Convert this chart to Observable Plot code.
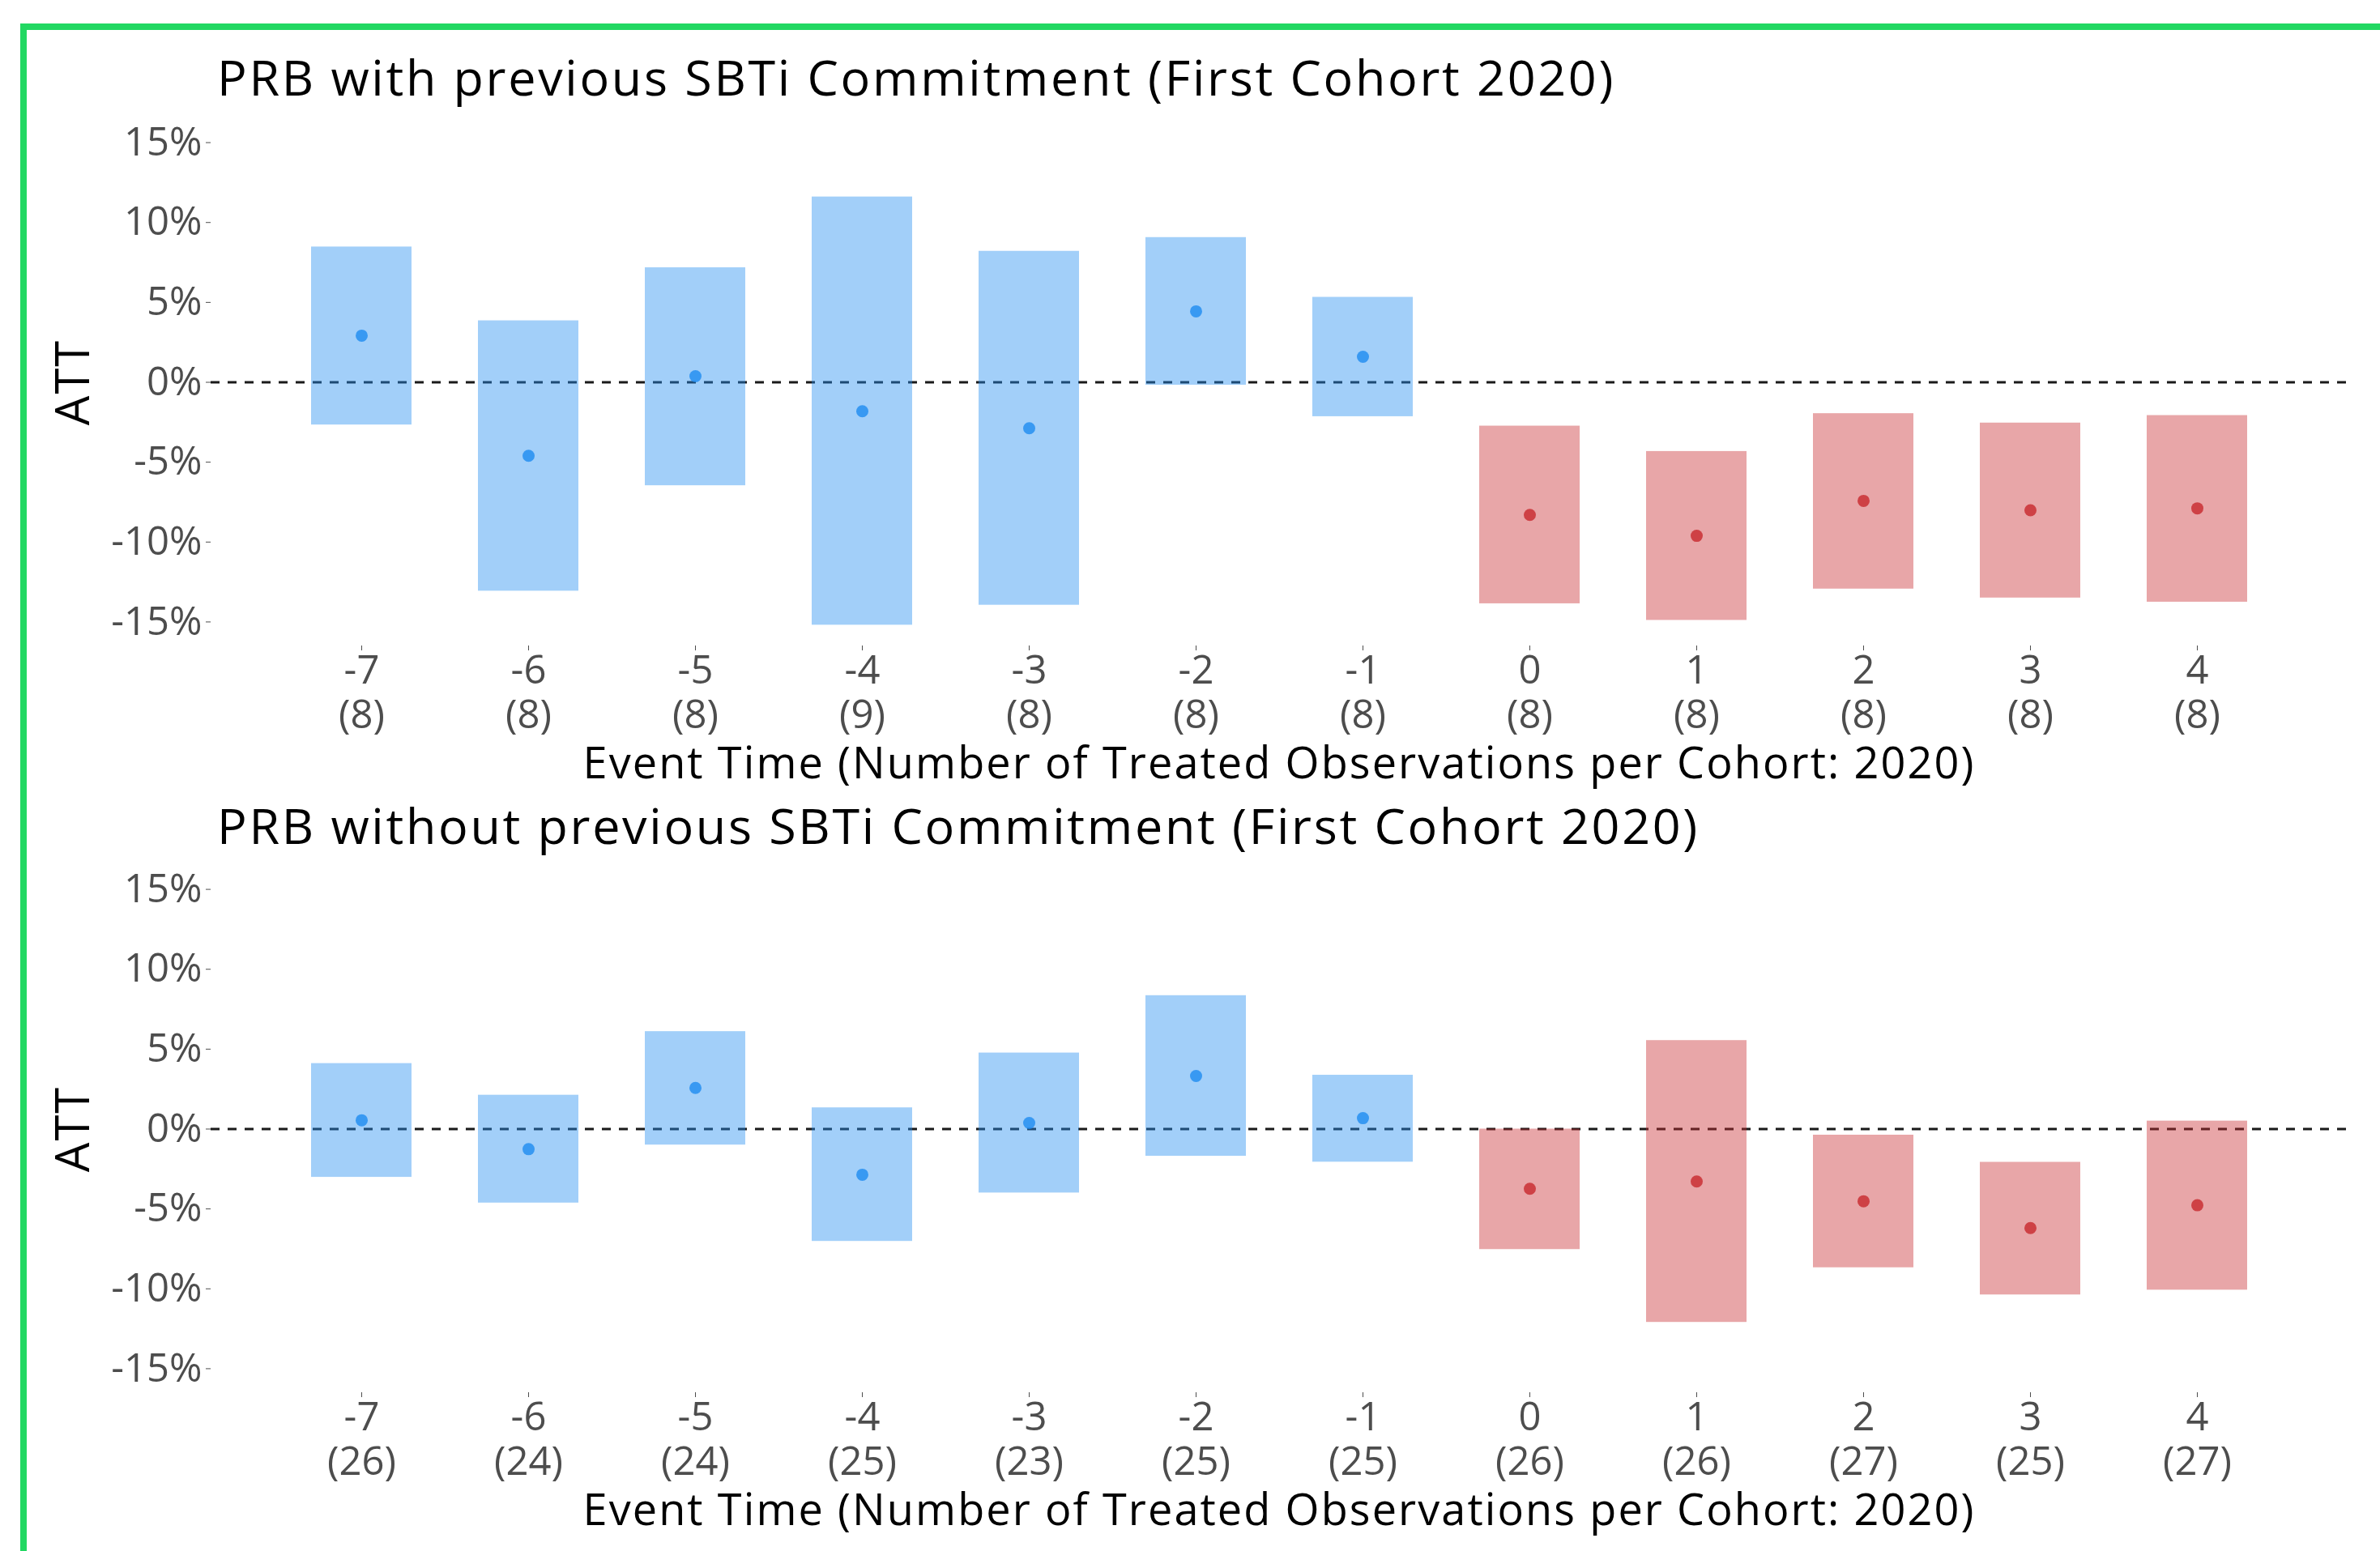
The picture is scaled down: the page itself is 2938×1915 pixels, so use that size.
<!DOCTYPE html>
<html>
<head>
<meta charset="utf-8">
<script src="https://cdn.jsdelivr.net/npm/d3@7"></script>
<script src="https://cdn.jsdelivr.net/npm/@observablehq/plot@0.6"></script>
<style>
  html, body { margin: 0; padding: 0; background: #ffffff; }
  body { width: 2938px; height: 1915px; position: relative; overflow: hidden; font-family: "Open Sans", sans-serif; }
  .frame { position: absolute; left: 25px; top: 29px; width: 3200px; height: 2200px;
           border-left: 8px solid #22d862; border-top: 8px solid #22d862; z-index: 10; pointer-events: none; }
  .title { position: absolute; left: 268px; font-size: 61px; line-height: 61px; letter-spacing: 2.7px; color: #000; white-space: nowrap; }
  .panel { position: absolute; left: 0; }
  .panel svg text.ticklbl { letter-spacing: 2.5px; }
</style>
</head>
<body>
<div class="frame"></div>
<div id="root"></div>
<script>
// ---- Data ----
const eventTimes = [-7, -6, -5, -4, -3, -2, -1, 0, 1, 2, 3, 4];

// Panel 1: PRB with previous SBTi Commitment
const withTitle = "PRB with previous SBTi Commitment (First Cohort 2020)";
const withAtt   = [2.92, -4.60, 0.38, -1.81, -2.88, 4.44, 1.60, -8.30, -9.61, -7.42, -8.01, -7.89];
const withLow   = [-2.67, -13.07, -6.47, -15.20, -13.95, -0.18, -2.15, -13.86, -14.90, -12.94, -13.50, -13.76];
const withHigh  = [8.47, 3.85, 7.17, 11.60, 8.20, 9.06, 5.32, -2.74, -4.33, -1.96, -2.55, -2.08];
const withN     = [8, 8, 8, 9, 8, 8, 8, 8, 8, 8, 8, 8];

// Panel 2: PRB without previous SBTi Commitment
const withoutTitle = "PRB without previous SBTi Commitment (First Cohort 2020)";
const withoutAtt   = [0.55, -1.26, 2.57, -2.86, 0.38, 3.32, 0.68, -3.74, -3.28, -4.52, -6.20, -4.77];
const withoutLow   = [-3.02, -4.63, -1.00, -7.03, -4.00, -1.70, -2.07, -7.54, -12.10, -8.68, -10.38, -10.08];
const withoutHigh  = [4.10, 2.12, 6.10, 1.33, 4.76, 8.35, 3.37, 0.00, 5.54, -0.38, -2.08, 0.50];
const withoutN     = [26, 24, 24, 25, 23, 25, 25, 26, 26, 27, 25, 27];

const yTicks = [-15, -10, -5, 0, 5, 10, 15];
const yTitle = "ATT";
const xTitle = "Event Time (Number of Treated Observations per Cohort: 2020)";
const periods = ["pre", "post"];
const periodColors = ["rgb(33,140,240)", "rgb(200,43,48)"];

function buildRows(att, lo, hi, n) {
  return eventTimes.map((t, i) => ({
    t, att: att[i], lo: lo[i], hi: hi[i], n: n[i], period: t < 0 ? "pre" : "post"
  }));
}

function makePanel(rows, title, svgTop, frameTop, svgHeight, titleBaseline) {
  const frameH = 651;
  const nMap = new Map(rows.map(d => [d.t, d.n]));
  const chart = Plot.plot({
    width: 2938,
    height: svgHeight,
    marginLeft: 260,
    marginRight: 41,
    marginTop: frameTop - svgTop,
    marginBottom: svgHeight - (frameTop - svgTop) - frameH,
    style: { fontFamily: "'Open Sans', sans-serif", background: "transparent", overflow: "visible" },
    x: { type: "band", domain: eventTimes, paddingInner: 0.4, paddingOuter: 0.59, axis: null },
    y: { domain: [-16.5, 16.5], axis: null },
    color: { domain: periods, range: periodColors },
    marks: [
      Plot.ruleY([0], { stroke: "#1a1a1a", strokeWidth: 2.8, strokeDasharray: "11,10" }),
      Plot.barY(rows, { x: "t", y1: "lo", y2: "hi", fill: "period", fillOpacity: 0.42 }),
      Plot.dot(rows, { x: "t", y: "att", fill: "period", fillOpacity: 0.82, r: 7.5, stroke: null }),
      Plot.axisY({ ticks: yTicks, tickFormat: d => `${d}%`, tickSize: 6, tickPadding: 5,
                   fontSize: 49, color: "#4d4d4d", label: null, className: "ticklbl" }),
      Plot.axisX({ tickFormat: d => `${d}\n(${nMap.get(d)})`, tickSize: 6, tickPadding: 2,
                   fontSize: 49, lineHeight: 1.12, color: "#4d4d4d", label: null, className: "ticklbl" }),
      Plot.text([yTitle], { text: d => d, frameAnchor: "left", dx: -169, rotate: -90,
                            textAnchor: "middle", lineAnchor: "middle", fontSize: 58, fill: "#000" }),
      Plot.text([xTitle], { text: d => d, frameAnchor: "bottom", dy: 146, textAnchor: "middle",
                            lineAnchor: "middle", fontSize: 54, fill: "#000" })
    ]
  });
  chart.querySelectorAll("text").forEach(el => {
    const txt = el.textContent;
    if (txt === xTitle) el.style.letterSpacing = "2.1px";
    if (txt === yTitle) el.style.letterSpacing = "2px";
  });
  const wrap = document.createElement("div");
  wrap.className = "panel";
  wrap.style.top = svgTop + "px";
  wrap.appendChild(chart);
  document.getElementById("root").appendChild(wrap);

  const t = document.createElement("div");
  t.className = "title";
  t.style.top = (titleBaseline - 54) + "px";
  t.textContent = title;
  document.getElementById("root").appendChild(t);
}

makePanel(buildRows(withAtt, withLow, withHigh, withN), withTitle, 0, 146, 980, 118);
makePanel(buildRows(withoutAtt, withoutLow, withoutHigh, withoutN), withoutTitle, 980, 1068, 935, 1042);
</script>
</body>
</html>
